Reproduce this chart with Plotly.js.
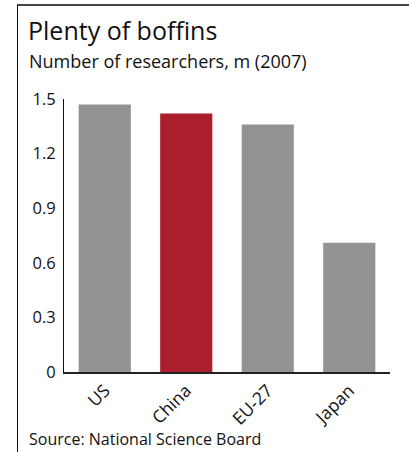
<!DOCTYPE html>
<html><head><meta charset="utf-8">
<script src="https://cdn.plot.ly/plotly-3.0.1.min.js"></script>
<style>html,body{margin:0;padding:0;background:#fff}#c{width:409px;height:452px}</style>
</head><body><div id="c"></div>
<script>
const categories = ["US", "China", "EU-27", "Japan"];
const researchers = [1.47, 1.42, 1.36, 0.71];
const barColors = ["#939393", "#aa1e2d", "#939393", "#939393"];
const yTicks = [0, 0.3, 0.6, 0.9, 1.2, 1.5];
const yTickLabels = ["0", "0.3", "0.6", "0.9", "1.2", "1.5"];

const W = 409, H = 452, L = 64, R = 19, T = 99, B = 80;
const pw = W - L - R, ph = H - T - B;
const px = x => (x - L) / pw;
const py = y => (H - B - y) / ph;
const font = "Open Sans, Noto Sans, sans-serif";

const data = [{
  type: "bar", x: categories, y: researchers,
  marker: {color: barColors}, hoverinfo: "none"
}];

const layout = {
  width: W, height: H,
  margin: {l: L, r: R, t: T, b: B, pad: 0},
  paper_bgcolor: "#fff", plot_bgcolor: "#fff",
  bargap: 0.36,
  showlegend: false,
  font: {family: font, color: "#111", size: 16},
  xaxis: {
    type: "category", tickangle: -45, showgrid: false, zeroline: false,
    showline: true, linecolor: "#222", linewidth: 1.5, ticks: "",
    tickfont: {family: font, size: 17.5, color: "#111"}
  },
  yaxis: {
    range: [0, 1.5], tickvals: yTicks, ticktext: yTickLabels,
    showgrid: false, zeroline: false, showline: true, linecolor: "#111",
    linewidth: 1, ticks: "", ticklabelstandoff: 4,
    tickfont: {family: font, size: 16.5, color: "#111"}
  },
  title: {
    text: "Plenty of boffins", xref: "container", yref: "container",
    x: 28 / W, xanchor: "left", y: 1 - 22 / H, yanchor: "top",
    font: {family: font, size: 25, color: "#111"}
  },
  annotations: [
    {text: "Number of researchers, m (2007)", xref: "paper", yref: "paper",
     x: px(27), y: py(47), xanchor: "left", yanchor: "top", showarrow: false,
     font: {family: font, size: 18, color: "#111"}},
    {text: "Source: National Science Board", xref: "paper", yref: "paper",
     x: px(27), y: py(426), xanchor: "left", yanchor: "top", showarrow: false,
     font: {family: font, size: 16, color: "#111"}}
  ],
  shapes: [
    {type: "line", xref: "paper", yref: "paper", x0: px(17), x1: px(409), y0: py(5), y1: py(5),
     line: {color: "#444", width: 2}},
    {type: "line", xref: "paper", yref: "paper", x0: px(17.5), x1: px(17.5), y0: py(5), y1: py(452),
     line: {color: "#111", width: 1}}
  ]
};

Plotly.newPlot("c", data, layout, {displayModeBar: false, staticPlot: true});
</script></body></html>
